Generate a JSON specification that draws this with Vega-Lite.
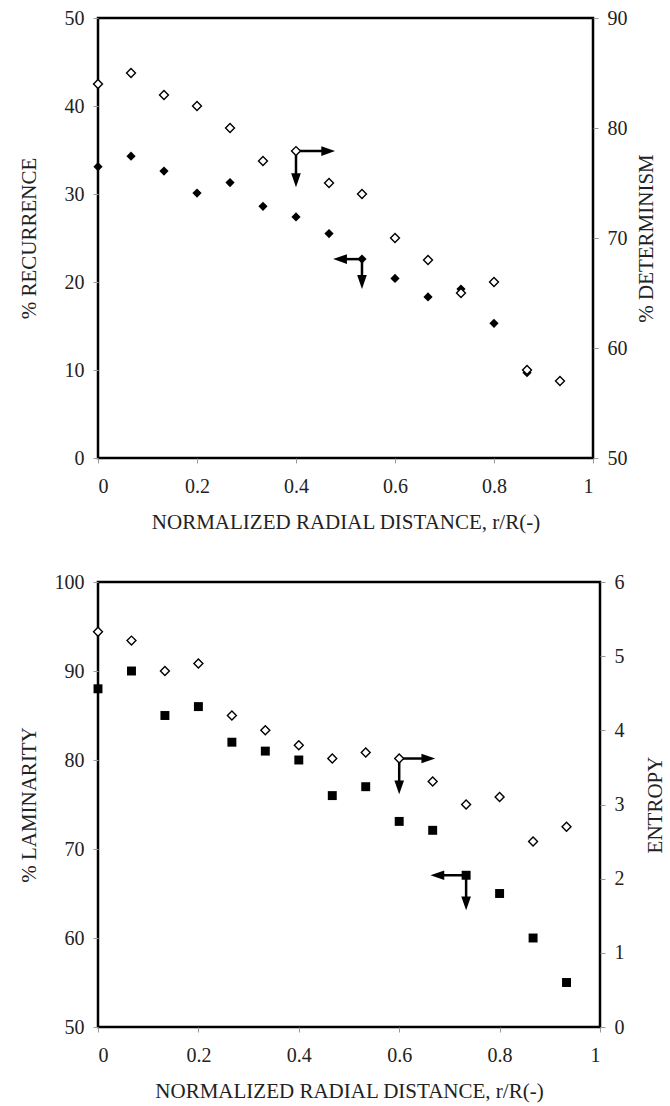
{
  "$schema": "https://vega.github.io/schema/vega-lite/v6.json",
  "background": "white",
  "padding": {"left": 16, "top": 6, "right": 5, "bottom": 5},
  "spacing": 36,
  "config": {
    "font": "'Liberation Serif', 'Times New Roman', serif",
    "view": {"stroke": "black", "strokeWidth": 2.5},
    "axis": {
      "domain": false, "grid": false, "ticks": true, "tickSize": 5, "tickColor": "#999999", "tickWidth": 1,
      "labelFont": "'Liberation Serif', 'Times New Roman', serif", "labelFontSize": 20, "labelColor": "#222222", "labelPadding": 9,
      "titleFont": "'Liberation Serif', 'Times New Roman', serif", "titleFontSize": 21, "titleFontWeight": "normal", "titleColor": "#222222"
    },
    "axisX": {"labelPadding": 13, "titleFontSize": 21, "titlePadding": 15}
  },
  "datasets": {
    "top": [
      {"r": 0, "rec": 33.1, "det": 84},
      {"r": 0.0667, "rec": 34.3, "det": 85},
      {"r": 0.1333, "rec": 32.6, "det": 83},
      {"r": 0.2, "rec": 30.1, "det": 82},
      {"r": 0.2667, "rec": 31.3, "det": 80},
      {"r": 0.3333, "rec": 28.6, "det": 77},
      {"r": 0.4, "rec": 27.4, "det": 77.9},
      {"r": 0.4667, "rec": 25.5, "det": 75},
      {"r": 0.5333, "rec": 22.6, "det": 74},
      {"r": 0.6, "rec": 20.4, "det": 70},
      {"r": 0.6667, "rec": 18.3, "det": 68},
      {"r": 0.7333, "rec": 19.2, "det": 65},
      {"r": 0.8, "rec": 15.3, "det": 66},
      {"r": 0.8667, "rec": 9.7, "det": 58},
      {"r": 0.9333, "rec": null, "det": 57}
    ],
    "bottom": [
      {"r": 0, "lam": 88, "ent": 5.33},
      {"r": 0.0667, "lam": 90, "ent": 5.21},
      {"r": 0.1333, "lam": 85, "ent": 4.8},
      {"r": 0.2, "lam": 86, "ent": 4.9},
      {"r": 0.2667, "lam": 82, "ent": 4.2},
      {"r": 0.3333, "lam": 81, "ent": 4.0},
      {"r": 0.4, "lam": 80, "ent": 3.8},
      {"r": 0.4667, "lam": 76, "ent": 3.62},
      {"r": 0.5333, "lam": 77, "ent": 3.7},
      {"r": 0.6, "lam": 73.1, "ent": 3.62},
      {"r": 0.6667, "lam": 72.1, "ent": 3.31},
      {"r": 0.7333, "lam": 67.05, "ent": 3.0},
      {"r": 0.8, "lam": 65, "ent": 3.1},
      {"r": 0.8667, "lam": 60, "ent": 2.5},
      {"r": 0.9333, "lam": 55, "ent": 2.7}
    ],
    "detRules": [
      {"r": 0.4, "r2": 0.465, "det": 77.9, "det2": 77.9},
      {"r": 0.4, "r2": 0.4, "det": 77.9, "det2": 75.25}
    ],
    "detHeads": [
      {"r": 0.465, "det": 77.9, "dir": "right"},
      {"r": 0.4, "det": 75.25, "dir": "down"}
    ],
    "recRules": [
      {"r": 0.5333, "r2": 0.489, "rec": 22.6, "rec2": 22.6},
      {"r": 0.5333, "r2": 0.5333, "rec": 22.6, "rec2": 20.0}
    ],
    "recHeads": [
      {"r": 0.489, "rec": 22.6, "dir": "left"},
      {"r": 0.5333, "rec": 20.0, "dir": "down"}
    ],
    "entRules": [
      {"r": 0.6, "r2": 0.658, "ent": 3.62, "ent2": 3.62},
      {"r": 0.6, "r2": 0.6, "ent": 3.62, "ent2": 3.23}
    ],
    "entHeads": [
      {"r": 0.658, "ent": 3.62, "dir": "right"},
      {"r": 0.6, "ent": 3.23, "dir": "down"}
    ],
    "lamRules": [
      {"r": 0.7333, "r2": 0.676, "lam": 67.05, "lam2": 67.05},
      {"r": 0.7333, "r2": 0.7333, "lam": 67.05, "lam2": 63.9}
    ],
    "lamHeads": [
      {"r": 0.676, "lam": 67.05, "dir": "left"},
      {"r": 0.7333, "lam": 63.9, "dir": "down"}
    ]
  },
  "vconcat": [
    {
      "width": 495,
      "height": 440,
      "resolve": {"scale": {"y": "independent"}},
      "encoding": {
        "x": {"field": "r", "type": "quantitative", "scale": {"domain": [0, 1], "nice": false},
              "axis": {"values": [0, 0.2, 0.4, 0.6, 0.8, 1], "format": "~g", "title": "NORMALIZED RADIAL DISTANCE, r/R(-)"}}
      },
      "layer": [
        {
          "data": {"name": "recRules"},
          "mark": {"type": "rule", "color": "black", "strokeWidth": 2.5},
          "encoding": {
            "x2": {"field": "r2"},
            "y": {"field": "rec", "type": "quantitative", "scale": {"domain": [0, 50], "nice": false, "zero": false}, "axis": null},
            "y2": {"field": "rec2"}
          }
        },
        {
          "data": {"name": "recHeads"},
          "mark": {"type": "point", "filled": true, "color": "black", "opacity": 1, "size": 190},
          "encoding": {
            "y": {"field": "rec", "type": "quantitative", "scale": {"domain": [0, 50], "nice": false, "zero": false}, "axis": null},
            "shape": {"field": "dir", "type": "nominal", "legend": null,
                      "scale": {"domain": ["right", "down", "left"], "range": ["M-1,-0.7L1,0L-1,0.7Z", "M-0.7,-1L0,1L0.7,-1Z", "M1,-0.7L-1,0L1,0.7Z"]}}
          }
        },
        {
          "data": {"name": "detRules"},
          "mark": {"type": "rule", "color": "black", "strokeWidth": 2.5},
          "encoding": {
            "x2": {"field": "r2"},
            "y": {"field": "det", "type": "quantitative", "scale": {"domain": [50, 90], "nice": false, "zero": false}, "axis": null},
            "y2": {"field": "det2"}
          }
        },
        {
          "data": {"name": "detHeads"},
          "mark": {"type": "point", "filled": true, "color": "black", "opacity": 1, "size": 190},
          "encoding": {
            "y": {"field": "det", "type": "quantitative", "scale": {"domain": [50, 90], "nice": false, "zero": false}, "axis": null},
            "shape": {"field": "dir", "type": "nominal", "legend": null,
                      "scale": {"domain": ["right", "down", "left"], "range": ["M-1,-0.7L1,0L-1,0.7Z", "M-0.7,-1L0,1L0.7,-1Z", "M1,-0.7L-1,0L1,0.7Z"]}}
          }
        },
        {
          "data": {"name": "top"},
          "mark": {"type": "point", "shape": "diamond", "filled": true, "color": "black", "opacity": 1, "size": 85},
          "encoding": {
            "y": {"field": "rec", "type": "quantitative", "scale": {"domain": [0, 50], "nice": false, "zero": false},
                  "axis": {"orient": "left", "values": [0, 10, 20, 30, 40, 50], "title": "% RECURRENCE", "titlePadding": 25}}
          }
        },
        {
          "data": {"name": "top"},
          "mark": {"type": "point", "shape": "diamond", "filled": true, "fill": "white", "stroke": "black", "strokeWidth": 1.4, "opacity": 1, "size": 80},
          "encoding": {
            "y": {"field": "det", "type": "quantitative", "scale": {"domain": [50, 90], "nice": false, "zero": false},
                  "axis": {"orient": "right", "values": [50, 60, 70, 80, 90], "title": "% DETERMINISM", "titleAngle": -90, "titleBaseline": "top", "titlePadding": 8}}
          }
        }
      ]
    },
    {
      "width": 502,
      "height": 445,
      "resolve": {"scale": {"y": "independent"}},
      "encoding": {
        "x": {"field": "r", "type": "quantitative", "scale": {"domain": [0, 1], "nice": false},
              "axis": {"values": [0, 0.2, 0.4, 0.6, 0.8, 1], "format": "~g", "title": "NORMALIZED RADIAL DISTANCE, r/R(-)"}}
      },
      "layer": [
        {
          "data": {"name": "lamRules"},
          "mark": {"type": "rule", "color": "black", "strokeWidth": 2.5},
          "encoding": {
            "x2": {"field": "r2"},
            "y": {"field": "lam", "type": "quantitative", "scale": {"domain": [50, 100], "nice": false, "zero": false}, "axis": null},
            "y2": {"field": "lam2"}
          }
        },
        {
          "data": {"name": "lamHeads"},
          "mark": {"type": "point", "filled": true, "color": "black", "opacity": 1, "size": 190},
          "encoding": {
            "y": {"field": "lam", "type": "quantitative", "scale": {"domain": [50, 100], "nice": false, "zero": false}, "axis": null},
            "shape": {"field": "dir", "type": "nominal", "legend": null,
                      "scale": {"domain": ["right", "down", "left"], "range": ["M-1,-0.7L1,0L-1,0.7Z", "M-0.7,-1L0,1L0.7,-1Z", "M1,-0.7L-1,0L1,0.7Z"]}}
          }
        },
        {
          "data": {"name": "entRules"},
          "mark": {"type": "rule", "color": "black", "strokeWidth": 2.5},
          "encoding": {
            "x2": {"field": "r2"},
            "y": {"field": "ent", "type": "quantitative", "scale": {"domain": [0, 6], "nice": false, "zero": false}, "axis": null},
            "y2": {"field": "ent2"}
          }
        },
        {
          "data": {"name": "entHeads"},
          "mark": {"type": "point", "filled": true, "color": "black", "opacity": 1, "size": 190},
          "encoding": {
            "y": {"field": "ent", "type": "quantitative", "scale": {"domain": [0, 6], "nice": false, "zero": false}, "axis": null},
            "shape": {"field": "dir", "type": "nominal", "legend": null,
                      "scale": {"domain": ["right", "down", "left"], "range": ["M-1,-0.7L1,0L-1,0.7Z", "M-0.7,-1L0,1L0.7,-1Z", "M1,-0.7L-1,0L1,0.7Z"]}}
          }
        },
        {
          "data": {"name": "bottom"},
          "mark": {"type": "point", "shape": "square", "filled": true, "color": "black", "opacity": 1, "size": 80},
          "encoding": {
            "y": {"field": "lam", "type": "quantitative", "scale": {"domain": [50, 100], "nice": false, "zero": false},
                  "axis": {"orient": "left", "values": [50, 60, 70, 80, 90, 100], "title": "% LAMINARITY", "titlePadding": 15}}
          }
        },
        {
          "data": {"name": "bottom"},
          "mark": {"type": "point", "shape": "diamond", "filled": true, "fill": "white", "stroke": "black", "strokeWidth": 1.4, "opacity": 1, "size": 80},
          "encoding": {
            "y": {"field": "ent", "type": "quantitative", "scale": {"domain": [0, 6], "nice": false, "zero": false},
                  "axis": {"orient": "right", "values": [0, 1, 2, 3, 4, 5, 6], "title": "ENTROPY", "titleAngle": -90, "titleBaseline": "top", "titlePadding": 20}}
          }
        }
      ]
    }
  ]
}
